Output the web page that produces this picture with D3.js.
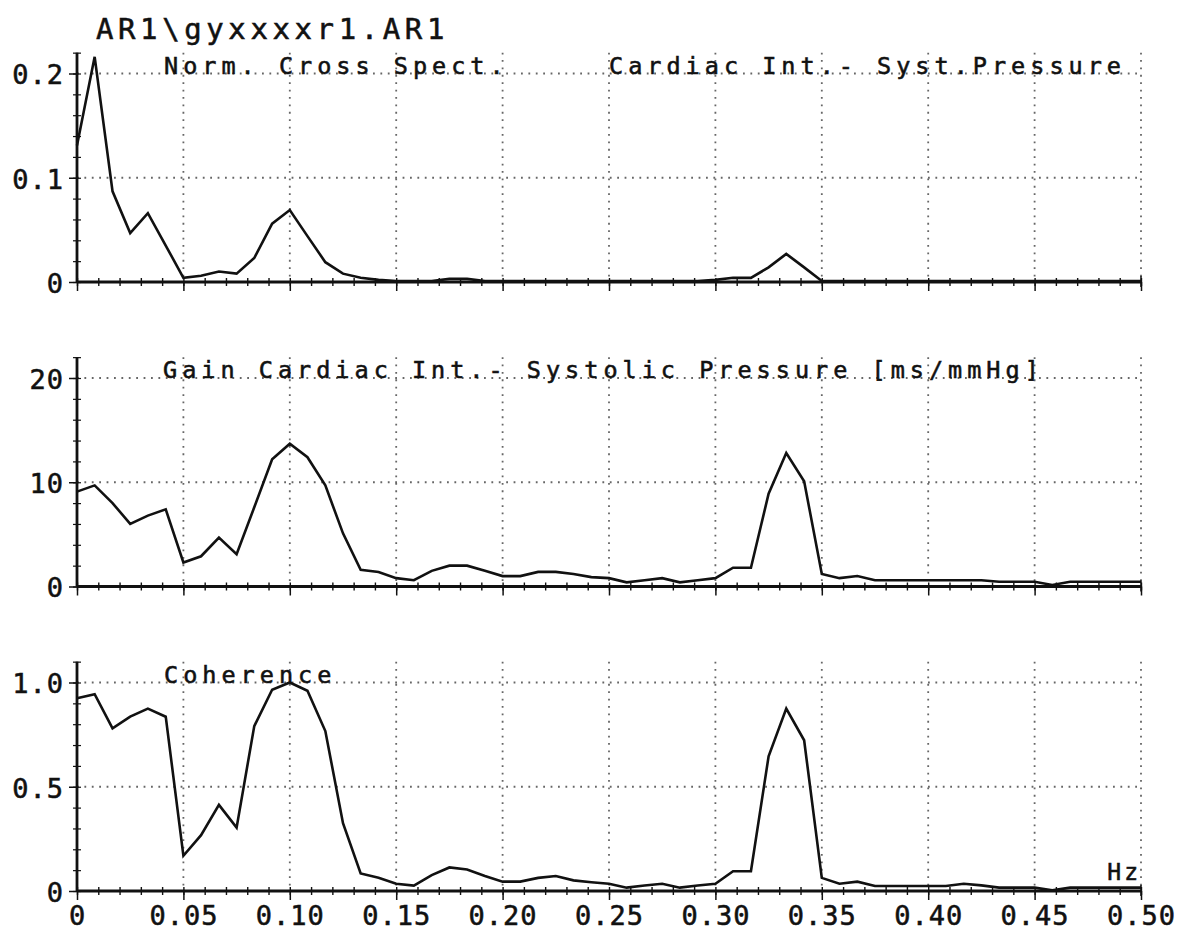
<!DOCTYPE html>
<html lang="en">
<head>
<meta charset="UTF-8">
<script src="https://cdn.jsdelivr.net/npm/d3@7"></script>
<title>AR1 cross spectrum</title>
<style>
	body { margin: 0; background: #fff; }
	svg text { font-family: "DejaVu Sans Mono", monospace; fill: #111; stroke: #111; stroke-width: 0.55; }
	.grid line { stroke: #666; stroke-width: 1.8; stroke-dasharray: 1.8 5.6; }
	.axis path, .axis line { stroke: #111; }
</style>
</head>
<body>
<svg id="chart" width="1182" height="933"></svg>
<script>
// frequency bins (Hz)
const freqs = [0, .0083, .0167, .025, .0333, .0417, .05, .0583, .0667, .075, .0833, .0917, .1, .1083, .1167, .125,
	.1333, .1417, .15, .1583, .1667, .175, .1833, .1917, .2, .2083, .2167, .225, .2333, .2417, .25, .2583, .2667,
	.275, .2833, .2917, .3, .3083, .3167, .325, .3333, .3417, .35, .3583, .3667, .375, .3833, .3917, .4, .4083,
	.4167, .425, .4333, .4417, .45, .4583, .4667, .475, .4833, .4917, .5];

// normalised cross spectrum
const crossSpect = [0.131, 0.216, 0.087, 0.047, 0.066, 0.035, 0.004, 0.006, 0.010, 0.008, 0.023, 0.056, 0.069, 0.044,
	0.019, 0.008, 0.004, 0.002, 0.001, 0.001, 0.001, 0.003, 0.003, 0.001, 0.001, 0.001, 0.001, 0.001, 0.001, 0.001,
	0.001, 0.001, 0.001, 0.001, 0.001, 0.001, 0.002, 0.004, 0.004, 0.014, 0.027, 0.014, 0.001, 0.001, 0.001, 0.001,
	0.001, 0.001, 0.001, 0.001, 0.001, 0.001, 0.001, 0.001, 0.001, 0.001, 0.001, 0.001, 0.001, 0.001, 0.001];

// gain [ms/mmHg]
const gain = [9.1, 9.7, 8.0, 6.0, 6.8, 7.4, 2.3, 2.9, 4.7, 3.1, 7.6, 12.2, 13.7, 12.4, 9.7, 5.1, 1.6, 1.4, 0.8, 0.6,
	1.5, 2.0, 2.0, 1.5, 1.0, 1.0, 1.4, 1.4, 1.2, 0.9, 0.8, 0.4, 0.6, 0.8, 0.4, 0.6, 0.8, 1.8, 1.8, 8.9, 12.8, 10.1,
	1.2, 0.8, 1.0, 0.6, 0.6, 0.6, 0.6, 0.6, 0.6, 0.6, 0.45, 0.45, 0.45, 0.15, 0.45, 0.45, 0.45, 0.45, 0.45];

// coherence
const coherence = [0.924, 0.944, 0.78, 0.836, 0.875, 0.836, 0.169, 0.268, 0.413, 0.304, 0.791, 0.965, 1.0, 0.96,
	0.767, 0.325, 0.084, 0.064, 0.035, 0.026, 0.076, 0.113, 0.103, 0.072, 0.045, 0.045, 0.063, 0.072, 0.051, 0.042,
	0.035, 0.016, 0.026, 0.035, 0.016, 0.026, 0.035, 0.095, 0.095, 0.646, 0.875, 0.723, 0.063, 0.035, 0.045, 0.024,
	0.024, 0.024, 0.024, 0.024, 0.035, 0.027, 0.016, 0.016, 0.016, 0.003, 0.016, 0.016, 0.016, 0.016, 0.016];

const xTicks = [0, 0.05, 0.10, 0.15, 0.20, 0.25, 0.30, 0.35, 0.40, 0.45, 0.50];
const xTickLabels = ['0', '0.05', '0.10', '0.15', '0.20', '0.25', '0.30', '0.35', '0.40', '0.45', '0.50'];

const panels = [
	{ values: crossSpect, yMax: 0.2, minor: 0.02, ticks: [0, 0.1, 0.2], labels: ['0', '0.1', '0.2'],
		titles: [['Norm. Cross Spect.', 164], ['Cardiac Int.- Syst.Pressure', 609]] },
	{ values: gain, yMax: 20, minor: 2, ticks: [0, 10, 20], labels: ['0', '10', '20'],
		titles: [['Gain Cardiac Int.- Systolic Pressure [ms/mmHg]', 163]] },
	{ values: coherence, yMax: 1.0, minor: 0.1, ticks: [0, 0.5, 1.0], labels: ['0', '0.5', '1.0'],
		titles: [['Coherence', 164]] }
];

const svg = d3.select('#chart');
const x = d3.scaleLinear().domain([0, 0.5]).range([77, 1141]);
const baseY = [282, 586.5, 891];
const panelH = 208.5;

svg.append('text')
	.attr('x', 96).attr('y', 39)
	.attr('font-size', 29).attr('letter-spacing', 4.6)
	.text('AR1\\gyxxxxr1.AR1');

panels.forEach((p, k) => {
	const y0 = baseY[k];
	const y = d3.scaleLinear().domain([0, p.yMax]).range([y0, y0 - panelH]);
	const top = y(p.yMax * 1.1);
	const g = svg.append('g');

	// dotted grid
	const grid = g.append('g').attr('class', 'grid');
	grid.selectAll('.vg').data(xTicks.slice(1)).join('line')
		.attr('x1', d => x(d)).attr('x2', d => x(d))
		.attr('y1', top).attr('y2', y0);
	grid.selectAll('.hg').data(p.ticks.slice(1)).join('line')
		.attr('x1', x(0)).attr('x2', x(0.5))
		.attr('y1', d => y(d)).attr('y2', d => y(d));

	// panel titles
	p.titles.forEach(([t, tx]) => {
		g.append('text').attr('x', tx).attr('y', y(p.yMax))
			.attr('font-size', 23.5).attr('letter-spacing', 5).text(t);
	});

	// minor x ticks crossing the axis
	g.append('g').attr('class', 'axis')
		.attr('transform', `translate(0,${y0 - 4})`)
		.call(d3.axisBottom(x).tickValues(d3.range(0, 0.5001, 0.01)).tickSize(8).tickFormat(''))
		.call(a => a.select('.domain').remove())
		.selectAll('line').attr('stroke-width', 1.4);

	// major x ticks
	const xa = g.append('g').attr('class', 'axis')
		.attr('transform', `translate(0,${y0})`)
		.call(d3.axisBottom(x).tickValues(xTicks).tickSize(9).tickPadding(6)
			.tickFormat(k === 2 ? ((d, i) => xTickLabels[i]) : ''));
	xa.select('.domain').remove();
	xa.selectAll('line').attr('stroke-width', 1.5);
	xa.selectAll('text').attr('font-size', 27).attr('letter-spacing', 1).attr('dy', '0.72em');

	// minor y ticks
	g.append('g').attr('class', 'axis')
		.attr('transform', `translate(${x(0) + 4},0)`)
		.call(d3.axisLeft(y).tickValues(d3.range(0, p.yMax * 1.1 + 1e-9, p.minor)).tickSize(8).tickFormat(''))
		.call(a => a.select('.domain').remove())
		.selectAll('line').attr('stroke-width', 1.2).attr('stroke', '#444');

	// major y ticks + labels
	const ya = g.append('g').attr('class', 'axis')
		.attr('transform', `translate(${x(0)},0)`)
		.call(d3.axisLeft(y).tickValues(p.ticks).tickSize(8).tickPadding(5)
			.tickFormat((d, i) => p.labels[i]));
	ya.select('.domain').remove();
	ya.selectAll('line').attr('stroke-width', 1.5);
	ya.selectAll('text').attr('font-size', 27).attr('letter-spacing', 1).attr('dy', '0.38em');

	// axis lines
	g.append('line').attr('x1', x(0)).attr('x2', x(0)).attr('y1', top).attr('y2', y0)
		.attr('stroke', '#111').attr('stroke-width', 2.8);
	g.append('line').attr('x1', x(0)).attr('x2', x(0.5)).attr('y1', y0).attr('y2', y0)
		.attr('stroke', '#111').attr('stroke-width', 2.8);
	g.append('line').attr('x1', x(0.5)).attr('x2', x(0.5)).attr('y1', y0 - 6).attr('y2', y0 + 5)
		.attr('stroke', '#111').attr('stroke-width', 1.5);

	// data line
	const line = d3.line().x((d, i) => x(freqs[i])).y(d => y(d));
	g.append('path').datum(p.values)
		.attr('d', line)
		.attr('fill', 'none').attr('stroke', '#111').attr('stroke-width', 2.6)
		.attr('stroke-linejoin', 'miter');
});

svg.append('text')
	.attr('x', x(0.5)).attr('y', 880)
	.attr('text-anchor', 'end')
	.attr('font-size', 23).attr('letter-spacing', 3)
	.text('Hz');
</script>
</body>
</html>
